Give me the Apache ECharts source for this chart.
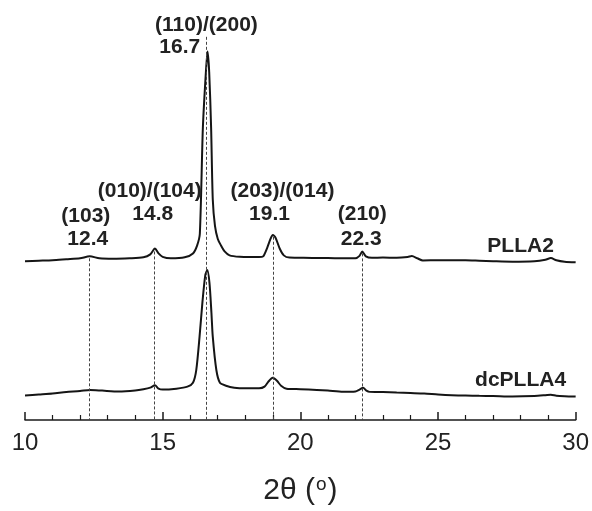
<!DOCTYPE html>
<html>
<head>
<meta charset="utf-8">
<script src="https://cdn.jsdelivr.net/npm/echarts@6/dist/echarts.min.js"></script>
<style>
html,body{margin:0;padding:0;background:#fff;}
#c{width:592px;height:511px;}
</style>
</head>
<body>
<div id="c"></div>
<script>
// ---- data (2θ in degrees, intensity in arbitrary offset units) ----
const plla2Theta = [10.0,10.5,11.0,11.5,12.0,12.35,12.7,13.2,13.8,14.3,14.55,14.72,14.85,15.0,15.3,15.8,16.1,16.25,16.35,16.46,16.57,16.63,16.69,16.76,16.82,16.9,17.0,17.12,17.25,17.43,17.8,18.2,18.5,18.65,18.8,18.92,19.0,19.1,19.25,19.4,19.6,20.0,20.5,21.0,21.5,22.0,22.15,22.25,22.38,22.6,23.0,23.5,23.9,24.05,24.25,24.45,25.0,25.5,26.0,26.5,27.0,27.7,28.5,28.9,29.1,29.3,29.6,30.0];
const plla2Intensity = [162,162.5,163,164,165,167,165,164.5,165,166,169,175,170,166.5,165,166,170,178,190,298,355,376,355,298,225,198,185,178,172,168,166.5,166.3,166.3,167,176,185,188.7,186,175,168,165.7,165.5,165.3,165.3,165,165,167.5,172,167,165.5,165.8,165.5,166.3,167.3,165,162.8,163,163,163,162.5,162,161.5,162,163.5,165.3,163,161.5,161];

const dcTheta = [10.0,10.5,11.0,11.5,12.0,12.36,12.8,13.4,14.0,14.3,14.55,14.72,14.85,15.0,15.5,15.9,16.1,16.22,16.34,16.45,16.55,16.62,16.7,16.77,16.82,16.95,17.08,17.3,17.6,18.0,18.5,18.7,18.85,19.0,19.15,19.3,19.5,20.0,20.6,21.0,21.55,22.0,22.15,22.28,22.4,22.52,23.0,23.5,24.0,24.5,25.0,25.5,26.0,26.5,27.0,27.7,28.5,28.9,29.1,29.3,29.6,30.0];
const dcIntensity = [25,26,27,28.5,29.5,30.7,30,29,30,31.3,33,35.5,32,31,32,34,38,51,85,122,148,153,140,110,85,51,38,35,33,32.3,32.3,34,39.5,43,40,35,32,31.5,30.7,30,28.7,29,31,33,30,28.7,28.5,28,27.5,27,26,25.3,25,24.7,24.5,24,24.5,25.3,25.8,24.8,24.3,24];

// reflections: measured peak positions, labelled values and Miller indices
const peakPos = [12.35, 14.7, 16.6, 19.0, 22.25];
const peakTop = [165, 172, 391, 187, 170];
const peakValueLabels = ['12.4', '14.8', '16.7', '19.1', '22.3'];
const peakHklLabels = ['(103)', '(010)/(104)', '(110)/(200)', '(203)/(014)', '(210)'];
const sampleNames = ['PLLA2', 'dcPLLA4'];
const xTicks = [10, 15, 20, 25, 30];

const chart = echarts.init(document.getElementById('c'), null, {renderer: 'canvas'});

const toPairs = (xs, ys) => xs.map((x, i) => [x, ys[i]]);
const FONT = 'Liberation Sans, Arial, sans-serif';

const option = {
  animation: false,
  backgroundColor: '#ffffff',
  grid: {left: 25, right: 16, top: 28, bottom: 83, containLabel: false},
  xAxis: {
    type: 'value',
    min: xTicks[0], max: xTicks[xTicks.length - 1], interval: 5,
    axisLine: {show: true, onZero: false, lineStyle: {color: '#1a1a1a', width: 1.5}},
    axisTick: {show: true, inside: true, length: 8, lineStyle: {color: '#1a1a1a', width: 1.5}},
    minorTick: {show: true, splitNumber: 5, length: 5, lineStyle: {color: '#1a1a1a', width: 1.2}},
    splitLine: {show: false},
    axisLabel: {margin: 11, fontSize: 24, color: '#222', fontFamily: FONT},
    name: '{a|2θ (}{b|o}{a|)}',
    nameLocation: 'middle',
    nameGap: 55,
    nameTextStyle: {
      rich: {
        a: {fontSize: 30, color: '#222', fontFamily: FONT},
        b: {fontSize: 19, color: '#222', fontFamily: FONT, padding: [0, 1, 13, 1]}
      }
    }
  },
  yAxis: {
    type: 'value', min: 0, max: 400, show: false,
    splitLine: {show: false}
  },
  series: [
    {
      name: sampleNames[0], type: 'line', data: toPairs(plla2Theta, plla2Intensity),
      showSymbol: false, symbol: 'none', smooth: 0.25,
      lineStyle: {color: '#151515', width: 2}, z: 3,
      markLine: {
        silent: true, symbol: ['none', 'none'], label: {show: false},
        lineStyle: {color: '#444', width: 1, type: [3, 2]},
        data: peakPos.map((p, i) => [{coord: [p, peakTop[i]]}, {coord: [p, 0]}])
      }
    },
    {
      name: sampleNames[1], type: 'line', data: toPairs(dcTheta, dcIntensity),
      showSymbol: false, symbol: 'none', smooth: 0.25,
      lineStyle: {color: '#151515', width: 2}, z: 3
    }
  ]
};
chart.setOption(option);

// annotation anchors in data coordinates [x, y]
const hklAnchors = [[12.21, 208], [14.53, 233], [16.59, 403], [19.35, 233], [22.25, 210]];
const valAnchors = [[12.28, 184], [14.64, 210], [15.62, 380], [18.88, 210], [22.21, 184]];
const nameAnchors = [[28.0, 177], [28.0, 41]];

const txtStyle = (text) => ({
  text: text, fill: '#222', font: 'bold 21px "Liberation Sans", Arial, sans-serif',
  textAlign: 'center', textVerticalAlign: 'middle'
});
const graphics = [];
const addText = (anchor, text) => {
  const p = chart.convertToPixel({gridIndex: 0}, anchor);
  graphics.push({type: 'text', x: p[0], y: p[1], style: txtStyle(text), z: 10});
};
peakHklLabels.forEach((t, i) => addText(hklAnchors[i], t));
peakValueLabels.forEach((t, i) => addText(valAnchors[i], t));
sampleNames.forEach((t, i) => addText(nameAnchors[i], t));
chart.setOption({graphic: graphics});
</script>
</body>
</html>
